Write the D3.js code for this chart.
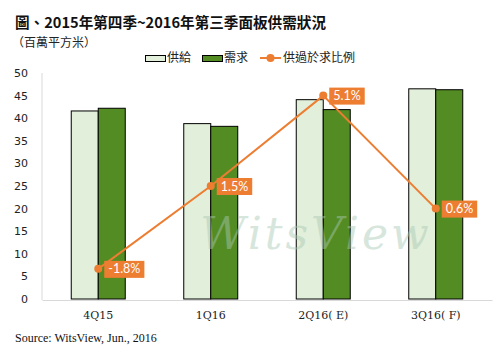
<!DOCTYPE html>
<html><head><meta charset="utf-8">
<script src="https://cdn.jsdelivr.net/npm/d3@7"></script>
<style>body{margin:0;background:#fff}svg{display:block}</style>
</head><body>
<svg id="c" width="502" height="354"></svg>
<script>
const categories = ["4Q15", "1Q16", "2Q16( E)", "3Q16( F)"];
const supply = [41.6, 38.8, 44.1, 46.5];
const demand = [42.2, 38.2, 41.9, 46.3];
const ratio = [-1.8, 1.5, 5.1, 0.6];
const ratioLabels = ["-1.8%", "1.5%", "5.1%", "0.6%"];
const yTicks = [0, 5, 10, 15, 20, 25, 30, 35, 40, 45, 50];

const svg = d3.select("#c");
const m = {l: 42, r: 10, t: 73, b: 55};
const x = d3.scaleBand().domain(categories).range([m.l, 492]);
const y = d3.scaleLinear().domain([0, 50]).range([299, 73]);
const y2 = d3.scaleLinear().domain([-3, 6]).range([299, 73]);
const bw = 27;

// title
svg.append("text").attr("x", 15).attr("y", 28).attr("font-family", "'Noto Sans CJK TC'")
  .attr("font-weight", "bold").attr("font-size", 14.6).attr("fill", "#111")
  .text("圖、2015年第四季~2016年第三季面板供需狀況");
svg.append("text").attr("x", 12).attr("y", 47).attr("font-family", "'Noto Sans CJK TC'")
  .attr("font-size", 12).attr("fill", "#222").text("（百萬平方米）");

// axes lines
svg.append("line").attr("x1", m.l).attr("x2", m.l).attr("y1", 73).attr("y2", 300).attr("stroke", "#d9d9d9");
const xa = svg.append("g").attr("transform", "translate(0,300)").call(d3.axisBottom(x).tickSize(0).tickPadding(11));
xa.select(".domain").attr("stroke", "#d9d9d9");
xa.selectAll("text").attr("font-family", "'DejaVu Serif'").attr("font-size", 11).attr("fill", "#222");

const ya = svg.append("g").attr("transform", `translate(${m.l},0)`)
  .call(d3.axisLeft(y).tickValues(yTicks).tickSize(0).tickPadding(14));
ya.select(".domain").remove();
ya.selectAll("text").attr("font-family", "'DejaVu Sans'").attr("font-size", 11).attr("fill", "#222");

// bars
const g = svg.append("g");
g.selectAll(".s").data(categories).join("rect")
  .attr("x", d => x(d) + x.bandwidth()/2 - bw).attr("width", bw)
  .attr("y", (d, i) => y(supply[i])).attr("height", (d, i) => y(0) - y(supply[i]))
  .attr("fill", "#e2efda").attr("stroke", "#000").attr("stroke-width", 1);
g.selectAll(".d").data(categories).join("rect")
  .attr("x", d => x(d) + x.bandwidth()/2).attr("width", bw)
  .attr("y", (d, i) => y(demand[i])).attr("height", (d, i) => y(0) - y(demand[i]))
  .attr("fill", "#548c24").attr("stroke", "#000").attr("stroke-width", 1);

// watermark (semi-transparent, over bars)
svg.append("text").attr("x", 316).attr("y", 249).attr("text-anchor", "middle")
  .attr("font-family", "'DejaVu Serif'").attr("font-style", "italic").attr("font-size", 44)
  .attr("letter-spacing", 3).attr("fill", "#a8c9b4").attr("opacity", 0.45).text("WitsView");

// line
const orange = "#ed7d31";
const line = d3.line().x((d, i) => x(categories[i]) + x.bandwidth()/2).y(d => y2(d));
svg.append("path").attr("d", line(ratio)).attr("fill", "none").attr("stroke", orange).attr("stroke-width", 2);
svg.selectAll(".pt").data(ratio).join("circle")
  .attr("cx", (d, i) => x(categories[i]) + x.bandwidth()/2).attr("cy", d => y2(d)).attr("r", 4).attr("fill", orange);

// labels
ratio.forEach((v, i) => {
  const cx = x(categories[i]) + x.bandwidth()/2 + 6, cy = y2(v);
  const t = svg.append("text").attr("x", cx + 4).attr("y", cy + 4.5)
    .attr("font-family", "Lato").attr("font-size", 12.5).attr("fill", "#fff").text(ratioLabels[i]);
  const bb = t.node().getBBox();
  svg.insert("rect", () => t.node()).attr("x", cx).attr("y", cy - 8).attr("width", bb.width + 8).attr("height", 17).attr("fill", orange);
});

// legend
const lg = svg.append("g").attr("font-family", "'Noto Sans CJK TC'").attr("font-size", 12).attr("fill", "#222");
lg.append("rect").attr("x", 145.5).attr("y", 55.5).attr("width", 20).attr("height", 6).attr("fill", "#e2efda").attr("stroke", "#000");
lg.append("text").attr("x", 167).attr("y", 62).text("供給");
lg.append("rect").attr("x", 202.5).attr("y", 55.5).attr("width", 20).attr("height", 6).attr("fill", "#548c24").attr("stroke", "#000");
lg.append("text").attr("x", 224).attr("y", 62).text("需求");
lg.append("line").attr("x1", 260).attr("x2", 281).attr("y1", 58).attr("y2", 58).attr("stroke", orange).attr("stroke-width", 2);
lg.append("circle").attr("cx", 270.5).attr("cy", 58).attr("r", 4).attr("fill", orange);
lg.append("text").attr("x", 283).attr("y", 62).text("供過於求比例");

// source
svg.append("text").attr("x", 15).attr("y", 342).attr("font-family", "'Liberation Serif'")
  .attr("font-size", 12).attr("fill", "#111").text("Source: WitsView, Jun., 2016");
</script>
</body></html>
